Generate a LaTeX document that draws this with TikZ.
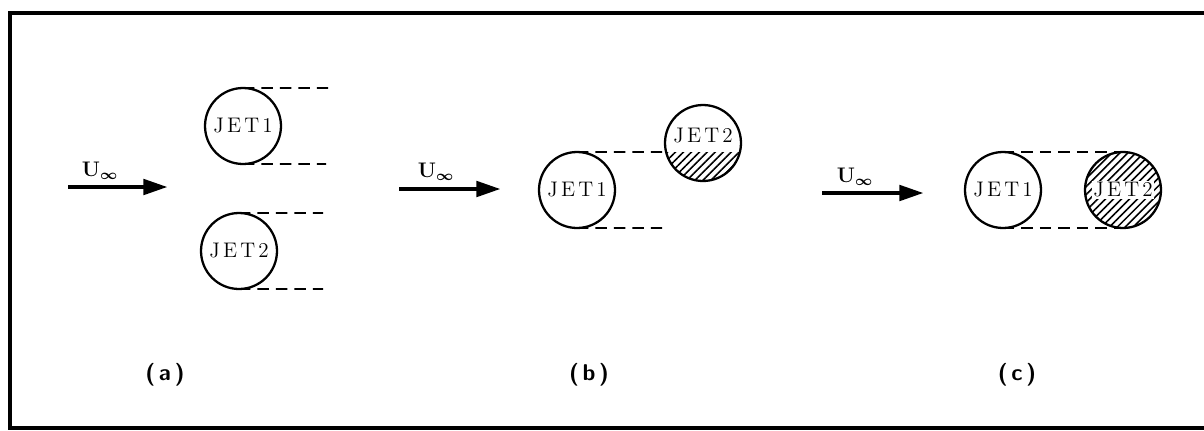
\documentclass[tikz,border=0pt]{standalone}
\usepackage{amsmath,amssymb}
\usepackage{tikz}
\usetikzlibrary{arrows.meta,patterns.meta}

\newcommand{\jetlbl}[1]{J\kern1.8pt E\kern1.8pt T\kern1.8pt #1}
\newcommand{\uinf}{$\mathbf{U}_{\boldsymbol{\infty}}$}

\begin{document}
\begin{tikzpicture}[x=0.02cm, y=-0.02cm,
  jet/.style={draw, circle, line width=1.3pt, minimum size=1.52cm, inner sep=0pt, outer sep=0pt, font=\fontsize{12}{14}\selectfont},
  wake/.style={line width=1.1pt, dash pattern=on 6.5pt off 4pt},
  flow/.style={line width=2.8pt, -{Triangle[length=14pt, width=8.5pt]}},
  jhatch/.style={pattern={Lines[angle=45, distance=3.2pt, line width=0.9pt]}},
  vel/.style={font=\fontsize{12}{14}\selectfont},
  sub/.style={font=\sffamily\bfseries\fontsize{13}{15}\selectfont}]
\useasboundingbox (0,0) rectangle (1204,430);
\clip (0,0) rectangle (1204,430);
\draw[line width=2.2pt] (1215,13) -- (10,13) -- (10,428) -- (1215,428);

% (a) side by side
\coordinate (fa0) at (68,187); \coordinate (fa1) at (168,187);
\draw[flow] (fa0) -- (fa1);
\node[vel] (ua) at (100,171) {\uinf};
\node[jet] (a1) at (243,126) {\jetlbl{1}};
\node[jet] (a2) at (239,251) {\jetlbl{2}};
\coordinate (a1t) at (330,88); \coordinate (a1b) at (326,164);
\coordinate (a2t) at (323,213); \coordinate (a2b) at (323,289);
\draw[wake] (a1.north) -- (a1t);
\draw[wake] (a1.south) -- (a1b);
\draw[wake] (a2.north) -- (a2t);
\draw[wake] (a2.south) -- (a2b);
\node[sub] (la) at (165,375) {(\,a\,)};

% (b) staggered
\coordinate (fb0) at (399,189); \coordinate (fb1) at (501,189);
\draw[flow] (fb0) -- (fb1);
\node[vel] (ub) at (436,172) {\uinf};
\node[jet] (b1) at (577,190) {\jetlbl{1}};
\node[jet] (b2) at (703,143) {};
\begin{scope}
\clip (660,152) rectangle (750,186);
\fill[jhatch] (b2.center) circle (0.75cm);
\end{scope}
\node[font=\fontsize{12}{14}\selectfont] (b2t) at (703,136) {\jetlbl{2}};
\coordinate (b2l) at (666,152); \coordinate (b1b) at (665,228);
\draw[wake] (b1.north) -- (b2l);
\draw[wake] (b1.south) -- (b1b);
\node[sub] (lb) at (589,375) {(\,b\,)};

% (c) tandem
\coordinate (fc0) at (822,193); \coordinate (fc1) at (924,193);
\draw[flow] (fc0) -- (fc1);
\node[vel] (uc) at (855,177) {\uinf};
\node[jet] (c1) at (1003,190) {\jetlbl{1}};
\node[jet, jhatch] (c2) at (1123,190) {};
\node[fill=white, inner sep=1pt, font=\fontsize{12}{14}\selectfont] (c2t) at (c2) {\jetlbl{2}};
\draw[wake] (c1.north) -- (c2.north);
\draw[wake] (c1.south) -- (c2.south);
\node[sub] (lc) at (1017,375) {(\,c\,)};
\end{tikzpicture}
\end{document}
